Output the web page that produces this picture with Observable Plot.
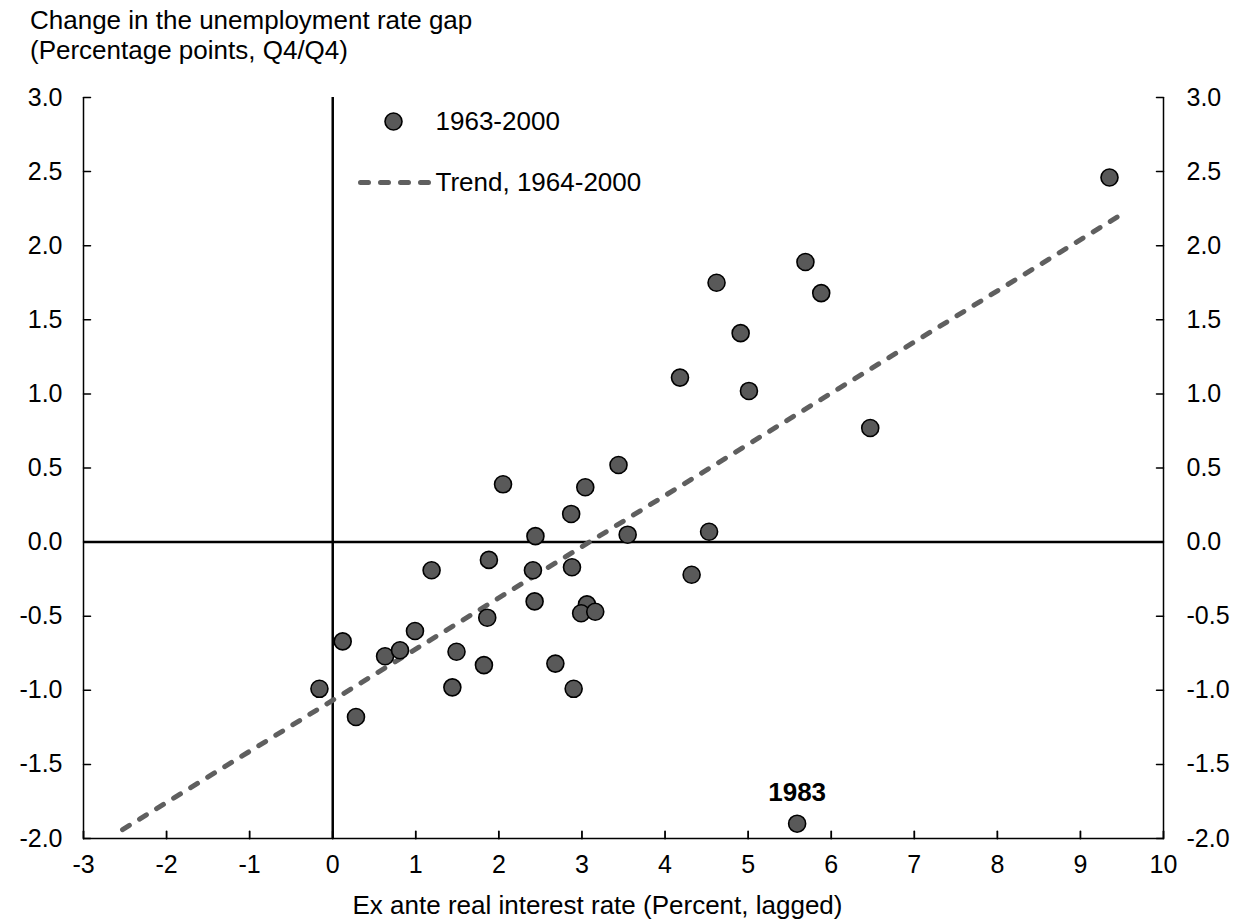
<!DOCTYPE html>
<html><head><meta charset="utf-8">
<script src="https://cdn.jsdelivr.net/npm/d3@7"></script>
<script src="https://cdn.jsdelivr.net/npm/@observablehq/plot@0.6"></script>
<style>
body{margin:0;background:#fff;font-family:"Liberation Sans",Arial,sans-serif;}
#title{height:70px;box-sizing:border-box;padding:5px 0 0 30px;font-size:26px;line-height:30px;color:#000;}
</style></head><body>
<div id="title"><div>Change in the unemployment rate gap</div><div>(Percentage points, Q4/Q4)</div></div>
<div id="chart"></div>
<script>
// Ex ante real interest rate (percent, lagged)
const rateX = [-0.16, 0.12, 0.28, 0.63, 0.81, 0.99, 1.19, 1.44, 1.49, 1.82, 1.86, 1.88, 2.05, 2.43, 2.41, 2.44, 2.68, 2.90, 2.87, 2.88, 3.06, 2.99, 3.16, 3.04, 3.44, 3.55, 4.18, 4.32, 4.53, 4.62, 4.91, 5.01, 5.69, 5.88, 6.47, 9.35, 5.59];
// Change in the unemployment rate gap (pp, Q4/Q4)
const gapY = [-0.99, -0.67, -1.18, -0.77, -0.73, -0.60, -0.19, -0.98, -0.74, -0.83, -0.51, -0.12, 0.39, -0.40, -0.19, 0.04, -0.82, -0.99, 0.19, -0.17, -0.42, -0.48, -0.47, 0.37, 0.52, 0.05, 1.11, -0.22, 0.07, 1.75, 1.41, 1.02, 1.89, 1.68, 0.77, 2.46, -1.90];
const pointLabels = ["", "", "", "", "", "", "", "", "", "", "", "", "", "", "", "", "", "", "", "", "", "", "", "", "", "", "", "", "", "", "", "", "", "", "", "", "1983"];
// Trend, 1964-2000 endpoints
const trendX = [-2.53, 9.52];
const trendY = [-1.94, 2.22];
const xTicks = [-3, -2, -1, 0, 1, 2, 3, 4, 5, 6, 7, 8, 9, 10];
const yTicks = [-2, -1.5, -1, -0.5, 0, 0.5, 1, 1.5, 2, 2.5, 3];
const legendLabels = ["1963-2000", "Trend, 1964-2000"];
const xTitle = "Ex ante real interest rate (Percent, lagged)";

const points = rateX.map((x, i) => ({x, y: gapY[i], label: pointLabels[i]}));
const trend = trendX.map((x, i) => ({x, y: trendY[i]}));
const xDom = [xTicks[0], xTicks[xTicks.length - 1]];
const yDom = [yTicks[0], yTicks[yTicks.length - 1]];
const tickShape = {draw(ctx, l) { ctx.moveTo(0, 0); ctx.lineTo(0, -l); }};
const dotFill = "#595959";
const trendColor = "#5f5f5f";
const dash = {stroke: trendColor, strokeWidth: 5, strokeDasharray: "8,12", strokeLinecap: "round"};

const chart = Plot.plot({
  width: 1249,
  height: 852,
  marginLeft: 83,
  marginRight: 86,
  marginTop: 27,
  marginBottom: 84,
  style: {fontFamily: "'Liberation Sans', Arial, sans-serif", fontSize: "25px", color: "#000", background: "#fff"},
  x: {domain: xDom},
  y: {domain: yDom},
  marks: [
    Plot.axisY({anchor: "left", ticks: yTicks, tickSize: 0, tickPadding: 21, tickFormat: d => d.toFixed(1), label: null, fontSize: 25}),
    Plot.axisY({anchor: "right", ticks: yTicks, tickSize: 0, tickPadding: 23, tickFormat: d => d.toFixed(1), label: null, fontSize: 25}),
    Plot.axisX({anchor: "bottom", ticks: xTicks, tickSize: 0, tickPadding: 17, tickFormat: d => String(d), label: null, fontSize: 25}),
    Plot.ruleX(xDom, {stroke: "#000", strokeWidth: 1.5}),
    Plot.ruleY([yDom[0]], {stroke: "#000", strokeWidth: 1.5}),
    Plot.vector(yTicks, {x: () => xDom[0], y: d => d, rotate: 90, length: 7, anchor: "start", shape: tickShape, stroke: "#000", strokeWidth: 1.5}),
    Plot.vector(yTicks, {x: () => xDom[1], y: d => d, rotate: -90, length: 7, anchor: "start", shape: tickShape, stroke: "#000", strokeWidth: 1.5}),
    Plot.vector(xTicks, {x: d => d, y: () => yDom[0], rotate: 0, length: 7, anchor: "start", shape: tickShape, stroke: "#000", strokeWidth: 1.8}),
    Plot.ruleY([0], {stroke: "#000", strokeWidth: 2.5}),
    Plot.ruleX([0], {stroke: "#000", strokeWidth: 2.5}),
    Plot.line(trend, {x: "x", y: "y", ...dash}),
    Plot.dot(points, {x: "x", y: "y", r: 8.5, fill: dotFill, stroke: "#000", strokeWidth: 1.6}),
    Plot.text(points.filter(d => d.label), {x: "x", y: "y", text: "label", dy: -31, fontWeight: "bold", fill: "#000", fontSize: 26}),
    // legend
    Plot.dot([legendLabels[0]], {frameAnchor: "top-left", dx: 310, dy: 24, r: 8.5, fill: dotFill, stroke: "#000", strokeWidth: 1.6}),
    Plot.text([legendLabels[0]], {frameAnchor: "top-left", dx: 352, dy: 24, text: d => d, textAnchor: "start", lineAnchor: "middle", fill: "#000", fontSize: 26}),
    Plot.vector([legendLabels[1]], {frameAnchor: "top-left", dx: 277, dy: 85, rotate: 90, length: 68, anchor: "start", shape: tickShape, ...dash}),
    Plot.text([legendLabels[1]], {frameAnchor: "top-left", dx: 352, dy: 85, text: d => d, textAnchor: "start", lineAnchor: "middle", fill: "#000", fontSize: 26}),
    Plot.text([xTitle], {frameAnchor: "bottom", dx: -26, dy: 67, text: d => d, lineAnchor: "middle", fill: "#000", fontSize: 26})
  ]
});
document.getElementById("chart").appendChild(chart);
</script>
</body></html>
